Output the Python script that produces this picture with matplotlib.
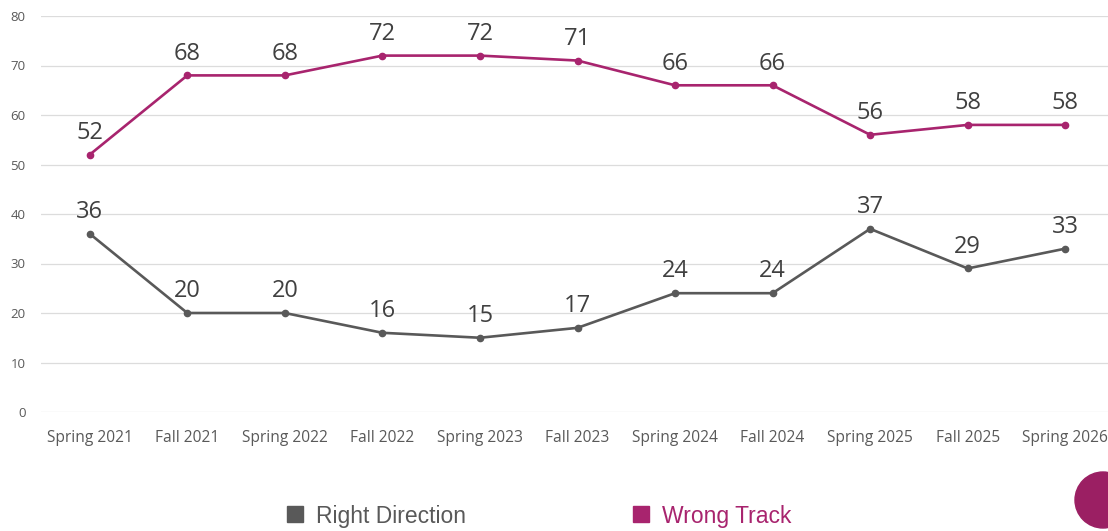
import numpy as np
import matplotlib.pyplot as plt
from matplotlib.lines import Line2D
from matplotlib.patches import Ellipse

# survey waves and values
waves = ['Spring 2021', 'Fall 2021', 'Spring 2022', 'Fall 2022', 'Spring 2023',
         'Fall 2023', 'Spring 2024', 'Fall 2024', 'Spring 2025', 'Fall 2025',
         'Spring 2026']
right_direction = [36, 20, 20, 16, 15, 17, 24, 24, 37, 29, 33]
wrong_track = [52, 68, 68, 72, 72, 71, 66, 66, 56, 58, 58]

gray = '#595959'
magenta = '#A8246E'

plt.rcParams['font.family'] = ['Open Sans', 'DejaVu Sans']

fig = plt.figure(figsize=(11.08, 5.31), dpi=100)
W, H = 1108, 531
# axes extend slightly past the right edge, like the cropped original
x0, x1 = 41, 1114
y0, y1 = 412, 16
ax = fig.add_axes([x0 / W, 1 - y0 / H, (x1 - x0) / W, (y0 - y1) / H])

x = np.arange(len(waves))
ax.plot(x, wrong_track, color=magenta, lw=1.9, marker='o', ms=4.5, zorder=3)
ax.plot(x, right_direction, color=gray, lw=1.9, marker='o', ms=4.5, zorder=3)

for series in (wrong_track, right_direction):
    for xi, v in zip(x, series):
        ax.annotate(str(v), (xi, v), xytext=(0, 7), textcoords='offset points',
                    ha='center', va='bottom', fontsize=17, color='#404040')

ax.set_xlim(-0.5, len(waves) - 0.5)
ax.set_ylim(0, 80)
ax.set_yticks(range(0, 81, 10))
ax.set_xticks(x)
ax.set_xticklabels(waves, fontsize=11.2, color=gray)
ax.tick_params(axis='y', labelsize=9.5, colors=gray, length=0, pad=11)
ax.tick_params(axis='x', length=0, pad=13)
ax.grid(axis='y', color='#dcdcdc', lw=0.9)
ax.set_axisbelow(True)
for s in ax.spines.values():
    s.set_visible(False)

handles = [Line2D([], [], ls='none', marker='s', ms=12, color=gray),
           Line2D([], [], ls='none', marker='s', ms=12, color=magenta)]
fig.legend(handles, ['Right Direction', 'Wrong Track'], ncol=2, frameon=False,
           loc='center', bbox_to_anchor=(0.485, 1 - 516 / H),
           prop={'family': 'Liberation Sans', 'size': 16.5},
           labelcolor=[gray, magenta], columnspacing=7.1,
           handlelength=1.0, handletextpad=0.45)

# logo circle in the corner (cut off like the original)
fig.patches.append(Ellipse((1103 / W, 1 - 500 / H), 56 / W, 56 / H,
                           transform=fig.transFigure, color='#9B1F63'))

fig.savefig('out.png', dpi=100)
